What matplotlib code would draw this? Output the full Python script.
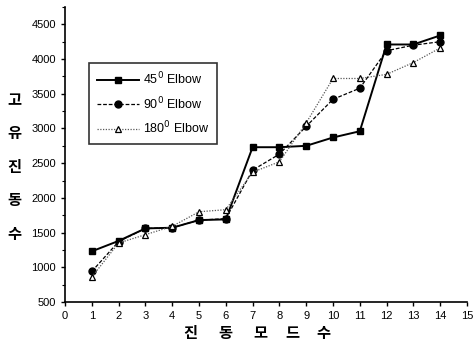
import matplotlib
matplotlib.use("Agg")
import matplotlib.pyplot as plt
from matplotlib.ticker import MultipleLocator

plt.rcParams['font.family'] = ['Liberation Sans', 'Noto Sans CJK KR', 'DejaVu Sans']

# Data
modes = [1, 2, 3, 4, 5, 6, 7, 8, 9, 10, 11, 12, 13, 14]
elbow45 = [1230, 1380, 1560, 1570, 1680, 1690, 2730, 2730, 2750, 2870, 2960, 4210, 4210, 4340]
elbow90 = [940, 1370, 1560, 1570, 1680, 1700, 2400, 2630, 3030, 3420, 3580, 4120, 4200, 4250]
elbow180 = [860, 1350, 1470, 1590, 1800, 1830, 2370, 2520, 3080, 3720, 3720, 3780, 3950, 4160]
labels = ["45$^0$ Elbow", "90$^0$ Elbow", "180$^0$ Elbow"]
xlabel_chars = "진동모드수"
ylabel_chars = "고유진동수"

W, H = 473, 347
fig = plt.figure(figsize=(W / 100, H / 100), dpi=100)
ax = fig.add_axes([65 / W, 45 / H, 402 / W, 295 / H])

ax.plot(modes, elbow45, color="black", lw=1.4, ls="-", marker="s", ms=5, label=labels[0])
ax.plot(modes, elbow90, color="black", lw=0.9, ls=(0, (3, 1.5)), marker="o", ms=5, label=labels[1])
ax.plot(modes, elbow180, color="0.35", lw=0.9, ls=(0, (1, 1.2)), marker="^", ms=5,
        mfc="white", mec="black", mew=0.9, label=labels[2])

ax.set_xlim(0, 15)
ax.set_ylim(500, 4750)
ax.xaxis.set_major_locator(MultipleLocator(1))
ax.yaxis.set_minor_locator(MultipleLocator(250))
ax.set_yticks(range(500, 5000, 500))

ax.spines["top"].set_visible(False)
ax.spines["right"].set_visible(False)
ax.spines["left"].set_linewidth(1.2)
ax.spines["bottom"].set_linewidth(1.2)
ax.tick_params(axis="both", which="major", direction="out", length=3, width=1, labelsize=8)
ax.tick_params(axis="y", which="minor", direction="out", length=2, width=0.8)

# Korean axis labels, one character at a time like the original
kfont = ['Noto Sans CJK KR', 'DejaVu Sans']
for ch, xpx in zip(xlabel_chars, [190, 225, 260, 292, 323]):
    fig.text(xpx / W, 1 - 333 / H, ch, ha="center", va="center",
             fontsize=11, fontweight="bold", family=kfont)
for ch, ypx in zip(ylabel_chars, [100, 133, 167, 200, 234]):
    fig.text(14 / W, 1 - ypx / H, ch, ha="center", va="center",
             fontsize=11, fontweight="bold", family=kfont)

leg = ax.legend(loc="upper left", bbox_to_anchor=(0.06, 0.81), borderaxespad=0,
                fontsize=9, frameon=True, fancybox=False, edgecolor="black",
                handlelength=3.4, handletextpad=0.3, borderpad=0.6, labelspacing=0.65)
leg.get_frame().set_linewidth(1.2)

fig.savefig("out.png", dpi=100)
